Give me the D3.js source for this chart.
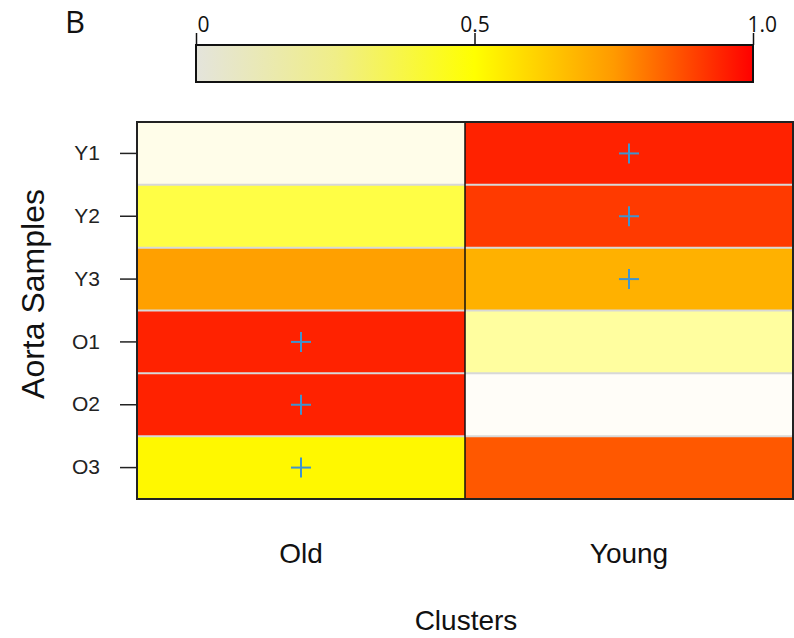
<!DOCTYPE html>
<html>
<head>
<meta charset="utf-8">
<script src="https://cdn.jsdelivr.net/npm/d3@7"></script>
<style>
  body { margin: 0; background: #fff; }
</style>
</head>
<body>
<div id="canvas"></div>
<script>
"use strict"

/* data */
let samples = ["Y1", "Y2", "Y3", "O1", "O2", "O3"];
let clusters = ["Old", "Young"];
let oldValues = [0.015, 0.18, 0.53, 0.90, 0.90, 0.27];
let youngValues = [0.90, 0.83, 0.48, 0.09, 0.0, 0.74];
/* which cells get a cross */
let oldMarked = [false, false, false, true, true, true];
let youngMarked = [true, true, true, false, false, false];
let barTicks = [0, 0.5, 1.0];
let barTickLabels = ["0", "0.5", "1.0"];
let barStops = [0, 0.25, 0.5, 0.75, 1];
let barColors = ["#e4e4dc", "#f0ee88", "#ffff00", "#ff9a00", "#ff0000"];

let sans = "'Liberation Sans', Arial, sans-serif";
let open = "'Open Sans', sans-serif";

let drawing = d3.select("#canvas")
    .append("svg")
    .attr("width", 794)
    .attr("height", 638);

/* heat colours: white-ish -> yellow -> red */
let heat = d3.scaleLinear()
    .domain([0, 0.25, 1])
    .range(["#fffdf8", "#ffff00", "#ff0000"])
    .clamp(true);

/* panel letter */
drawing.append("text")
    .attr("x", 65)
    .attr("y", 33)
    .attr("font-size", 31)
    .attr("font-family", open)
    .attr("fill", "#111")
    .text("B");

/* colour bar */
let barX = d3.scaleLinear().domain([0, 1]).range([196, 753]);
let barTop = 45;
let barH = 37;

let grad = drawing.append("defs").append("linearGradient")
    .attr("id", "barGrad")
    .attr("x1", "0%").attr("x2", "100%");
grad.selectAll("stop")
    .data(barStops)
    .enter().append("stop")
    .attr("offset", d => (d * 100) + "%")
    .attr("stop-color", (d, i) => barColors[i]);

drawing.append("rect")
    .attr("x", barX(0))
    .attr("y", barTop)
    .attr("width", barX(1) - barX(0))
    .attr("height", barH)
    .attr("fill", "url(#barGrad)")
    .attr("stroke", "#111")
    .attr("stroke-width", 2);

let barAxis = d3.axisTop(barX)
    .tickValues(barTicks)
    .tickSize(12)
    .tickSizeOuter(0)
    .tickFormat((d, i) => barTickLabels[i]);

let barG = drawing.append("g")
    .attr("transform", "translate(0," + barTop + ")")
    .call(barAxis);
barG.select(".domain").remove();
barG.selectAll(".tick line").attr("stroke", "#111").attr("stroke-width", 1.5);
barG.selectAll(".tick text")
    .attr("font-size", 21)
    .attr("font-family", open)
    .attr("fill", "#111")
    .attr("y", -13)
    .attr("dy", 0)
    .attr("text-anchor", (d, i) => i == 1 ? "middle" : "start")
    .attr("dx", (d, i) => i == 0 ? 1 : (i == 2 ? -6 : 0));

/* heatmap */
let x = d3.scaleBand().domain(clusters).range([137, 793]);
let y = d3.scaleBand().domain(samples).range([122, 499]);

let cells = [];
samples.forEach((s, i) => {
    cells.push({ col: "Old", row: s, v: oldValues[i], mark: oldMarked[i] });
    cells.push({ col: "Young", row: s, v: youngValues[i], mark: youngMarked[i] });
});

drawing.selectAll(".cell")
    .data(cells)
    .enter().append("rect")
    .attr("class", "cell")
    .attr("x", d => x(d.col))
    .attr("y", d => y(d.row))
    .attr("width", x.bandwidth())
    .attr("height", y.bandwidth())
    .attr("fill", d => heat(d.v));

/* light row separators */
drawing.selectAll(".sep")
    .data(samples.slice(1))
    .enter().append("line")
    .attr("x1", 137).attr("x2", 793)
    .attr("y1", d => y(d)).attr("y2", d => y(d))
    .attr("stroke", "#d8d8d8")
    .attr("stroke-width", 2);

/* column divider */
drawing.append("line")
    .attr("x1", x("Young")).attr("x2", x("Young"))
    .attr("y1", 122).attr("y2", 499)
    .attr("stroke", "#111")
    .attr("stroke-width", 1.5);

/* outer box */
drawing.append("rect")
    .attr("x", 137).attr("y", 122)
    .attr("width", 656).attr("height", 377)
    .attr("fill", "none")
    .attr("stroke", "#222")
    .attr("stroke-width", 2);

/* crosses */
let cr = 10;
let marks = cells.filter(d => d.mark);
let crosses = drawing.selectAll(".cross")
    .data(marks)
    .enter().append("g")
    .attr("transform", d => "translate(" + (x(d.col) + x.bandwidth() / 2) + "," + (y(d.row) + y.bandwidth() / 2) + ")");
crosses.append("line").attr("x1", -cr).attr("x2", cr).attr("y1", 0).attr("y2", 0)
    .attr("stroke", "#3f94cf").attr("stroke-width", 2);
crosses.append("line").attr("x1", 0).attr("x2", 0).attr("y1", -cr).attr("y2", cr)
    .attr("stroke", "#3f94cf").attr("stroke-width", 2);

/* y axis */
let yAxis = d3.axisLeft(y).tickSize(17).tickSizeOuter(0);
let yG = drawing.append("g")
    .attr("transform", "translate(137,0)")
    .call(yAxis);
yG.select(".domain").remove();
yG.selectAll(".tick line").attr("stroke", "#222").attr("stroke-width", 1.5);
yG.selectAll(".tick text")
    .attr("font-size", 21)
    .attr("font-family", sans)
    .attr("fill", "#222")
    .attr("x", -37);

/* x labels */
drawing.selectAll(".xlab")
    .data(clusters)
    .enter().append("text")
    .attr("x", d => x(d) + x.bandwidth() / 2)
    .attr("y", 563)
    .attr("text-anchor", "middle")
    .attr("font-size", 28)
    .attr("font-family", sans)
    .attr("fill", "#111")
    .text(d => d);

/* axis titles */
drawing.append("text")
    .attr("x", 466)
    .attr("y", 630)
    .attr("text-anchor", "middle")
    .attr("font-size", 28)
    .attr("font-family", sans)
    .attr("fill", "#111")
    .text("Clusters");

drawing.append("text")
    .attr("transform", "translate(44,294) rotate(-90)")
    .attr("text-anchor", "middle")
    .attr("font-size", 32)
    .attr("font-family", sans)
    .attr("fill", "#111")
    .text("Aorta Samples");
</script>
</body>
</html>
